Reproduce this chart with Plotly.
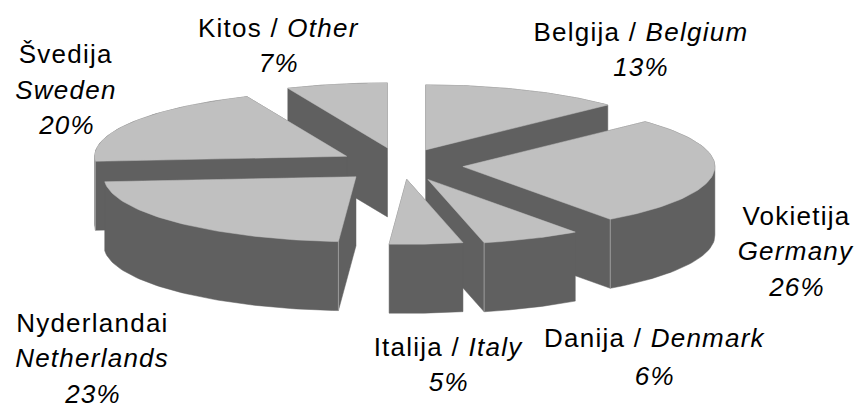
import numpy as np
import plotly.graph_objects as go

# --- data ---
names_lt = ["Belgija", "Vokietija", "Danija", "Italija", "Nyderlandai", "Švedija", "Kitos"]
names_en = ["Belgium", "Germany", "Denmark", "Italy", "Netherlands", "Sweden", "Other"]
shares = [13, 26, 6, 5, 23, 20, 7]

# --- drawing parameters (pixels of the 859x405 page) ---
CX, CY = 401, 165.5
RX, RY = 252, 65
DEPTH = 69
EXPLODE_X, EXPLODE_Y = 62, 17
ANGLE_SHIFT = [0, -0.5, 3.8, 5.1, 4.0, 2.8, 1.9, 0]  # view distortion at each slice boundary
# small view corrections to the exploded slice positions
EXPLODE_TWEAK = {"Denmark": (-3, -1), "Italy": (-4, -3), "Netherlands": (-4, -1.5),
                 "Sweden": (0, -1), "Other": (0, -1)}
TOP = "#c0c0c0"
SIDE = "#606060"
EDGE = "#9c9c9c"
FONT = "Liberation Sans"
FS = 26
LETTER_SPACING = "1.25px"
# slice edge that shows a thin light line: index -> 0 start, 1 end
EDGE_LINES = {"Germany": 1, "Denmark": 1, "Netherlands": 0, "Sweden": 0}

# text: (lines, centre x, line y positions)
label_lines = [
    ([f"Kitos / <i>Other</i>", "<i>7%</i>"], 279, [28, 63]),
    ([f"Belgija / <i>Belgium</i>", "<i>13%</i>"], 641, [32, 67]),
    (["Švedija", "<i>Sweden</i>", "<i>20%</i>"], 66, [54, 90, 125]),
    (["Vokietija", "<i>Germany</i>", "<i>26%</i>"], 796, [216, 251, 287]),
    (["Nyderlandai", "<i>Netherlands</i>", "<i>23%</i>"], 92, [323, 358, 394]),
    (["Italija / <i>Italy</i>", "<i>5%</i>"], 449, [347, 382]),
    (["Danija / <i>Denmark</i>", "<i>6%</i>"], 655, [338, 376]),
]


def hull(points):
    pts = sorted(set(points))
    def half(seq):
        out = []
        for p in seq:
            while len(out) >= 2 and (out[-1][0]-out[-2][0])*(p[1]-out[-2][1]) - (out[-1][1]-out[-2][1])*(p[0]-out[-2][0]) <= 0:
                out.pop()
            out.append(p)
        return out[:-1]
    return half(pts) + half(pts[::-1])


cum = np.concatenate([[0], np.cumsum(shares)]) / sum(shares) * 360.0
drawn = cum + np.array(ANGLE_SHIFT)
slices = []
for i, name in enumerate(names_en):
    mid = np.radians((cum[i] + cum[i + 1]) / 2)
    dx, dy = EXPLODE_TWEAK.get(name, (0, 0))
    ax = CX + EXPLODE_X * np.sin(mid) + dx
    ay = CY - EXPLODE_Y * np.cos(mid) + dy
    th = np.radians(np.linspace(drawn[i], drawn[i + 1], 60))
    px = ax + RX * np.sin(th)
    py = ay - RY * np.cos(th)
    slices.append(dict(name=name, ax=ax, ay=ay, px=px, py=py))

# back-to-front; Italy sits in front of Denmark
order = ["Other", "Belgium", "Sweden", "Germany", "Netherlands", "Denmark", "Italy"]
fig = go.Figure()
for s in sorted(slices, key=lambda d: order.index(d["name"])):
    tx = [s["ax"], *s["px"]]
    ty = [s["ay"], *s["py"]]
    pts = [(float(a), float(b)) for a, b in zip(tx, ty)] + [(float(a), float(b) + DEPTH) for a, b in zip(tx, ty)]
    h = hull(pts)
    fig.add_trace(go.Scatter(x=[p[0] for p in h] + [h[0][0]], y=[p[1] for p in h] + [h[0][1]],
                             mode="lines", fill="toself", fillcolor=SIDE, line=dict(width=0.5, color=SIDE),
                             hoverinfo="skip", showlegend=False))
    if s["name"] in EDGE_LINES:
        k = 0 if EDGE_LINES[s["name"]] == 0 else -1
        fig.add_trace(go.Scatter(x=[s["px"][k]] * 2, y=[s["py"][k], s["py"][k] + DEPTH], mode="lines",
                                 line=dict(width=1, color=EDGE), hoverinfo="skip", showlegend=False))
    fig.add_trace(go.Scatter(x=tx + [tx[0]], y=ty + [ty[0]], mode="lines", fill="toself", fillcolor=TOP,
                             line=dict(width=0.5, color=TOP), name=s["name"], hoverinfo="name", showlegend=False))

for lines, x, ys in label_lines:
    for text, y in zip(lines, ys):
        fig.add_annotation(x=x, y=y, xref="x", yref="y", text=text, showarrow=False,
                           xanchor="center", yanchor="middle",
                           font=dict(family=FONT, size=FS, color="#000000"))

fig.update_layout(
    width=859, height=405, margin=dict(l=0, r=0, t=0, b=0),
    paper_bgcolor="white", plot_bgcolor="white", showlegend=False,
    xaxis=dict(range=[0, 859], visible=False, fixedrange=True),
    yaxis=dict(range=[405, 0], visible=False, fixedrange=True),
)
post = ("document.body.style.margin='0';document.body.style.overflow='hidden';"
        "document.querySelectorAll('.annotation-text').forEach(function(t){t.style.letterSpacing='%s';});" % LETTER_SPACING)
fig.write_html("out.html", config=dict(displayModeBar=False), post_script=post)
